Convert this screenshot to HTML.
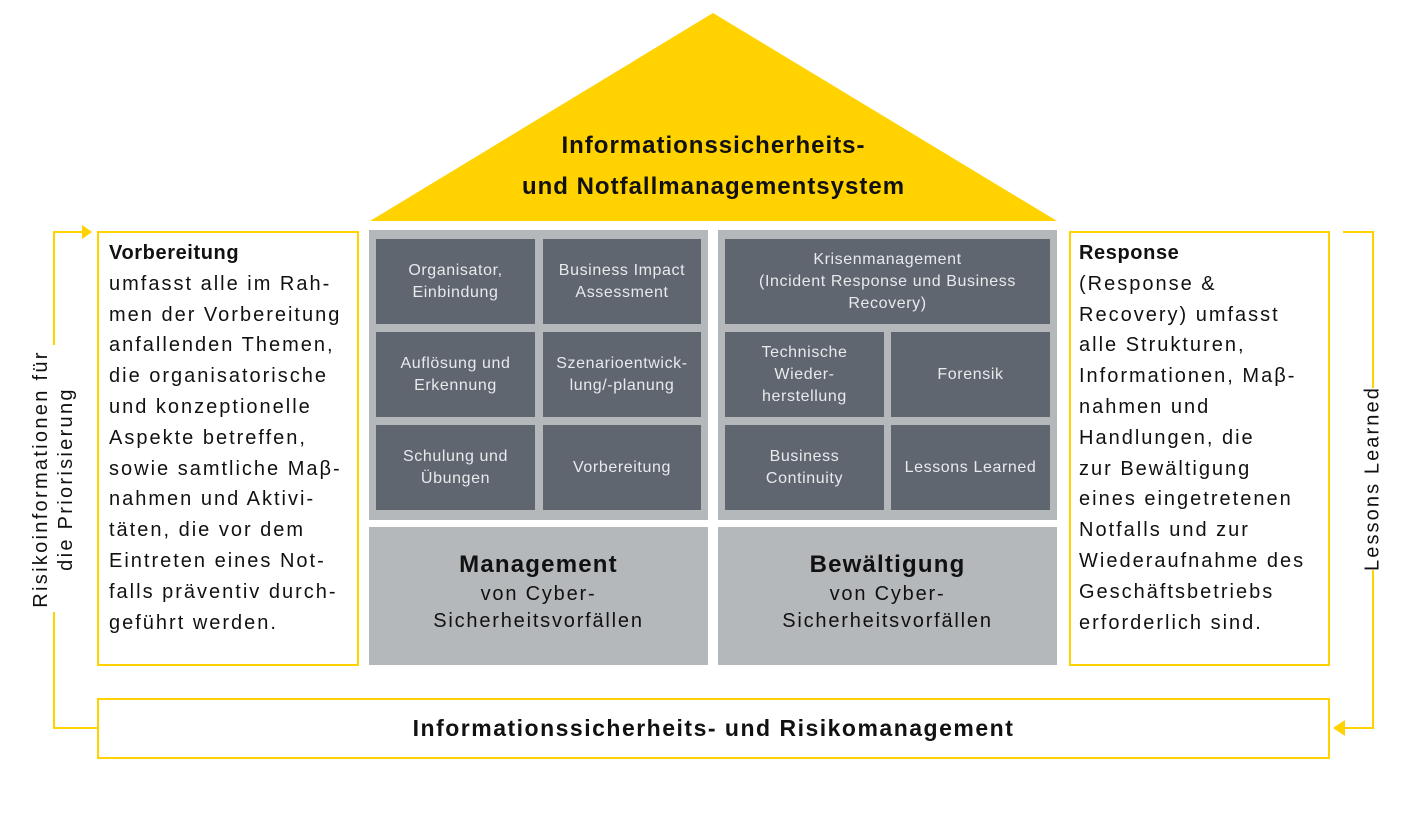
<!DOCTYPE html>
<html><head><meta charset="utf-8"><style>
body{margin:0;width:1417px;height:824px;background:#fff;position:relative;overflow:hidden;font-family:"Liberation Sans",sans-serif;}
.a{position:absolute;}
.yb{position:absolute;border:2px solid #FFD200;box-sizing:border-box;}
.t{position:absolute;background:#5f6670;color:#e8eaec;font-size:16px;line-height:22px;display:flex;align-items:center;justify-content:center;text-align:center;letter-spacing:0.6px;white-space:nowrap;}
.side{font-size:20px;line-height:30.8px;color:#111;white-space:nowrap;letter-spacing:2px;}
.side b{letter-spacing:0.6px;}
.gb{position:absolute;background:#b5b8bb;text-align:center;color:#111;white-space:nowrap;}
</style></head><body>
<svg class="a" style="left:0;top:0" width="1417" height="824">
<polygon points="713,13 370,221 1057,221" fill="#FFD200"/>
<g stroke="#FFD200" stroke-width="2" fill="none">
<polyline points="54,345 54,232 84,232"/>
<polyline points="54,612 54,728 97,728"/>
<polyline points="1343,232 1373,232 1373,388"/>
<polyline points="1373,570 1373,728 1345,728"/>
</g>
<polygon points="92,232 82,225 82,239" fill="#FFD200"/>
<polygon points="1333,728 1345,720 1345,736" fill="#FFD200"/>
<rect x="369" y="230" width="339" height="290" fill="#b5b8bb"/>
<rect x="718" y="230" width="339" height="290" fill="#b5b8bb"/>
</svg>
<div class="a" style="left:370px;top:125px;width:687px;text-align:center;font-weight:bold;font-size:24px;line-height:41px;color:#111;letter-spacing:1px;">Informationssicherheits-<br>und Notfallmanagementsystem</div>

<div class="yb" style="left:97px;top:231px;width:262px;height:435px;"></div>
<div class="a side" style="left:109px;top:238px;"><b>Vorbereitung</b><br>umfasst alle im Rah-<br>men der Vorbereitung<br>anfallenden Themen,<br>die organisatorische<br>und konzeptionelle<br>Aspekte betreffen,<br>sowie samtliche Maβ-<br>nahmen und Aktivi-<br>täten, die vor dem<br>Eintreten eines Not-<br>falls präventiv durch-<br>geführt werden.</div>

<div class="yb" style="left:1069px;top:231px;width:261px;height:435px;"></div>
<div class="a side" style="left:1079px;top:238px;"><b>Response</b><br>(Response &amp;<br>Recovery) umfasst<br>alle Strukturen,<br>Informationen, Maβ-<br>nahmen und<br>Handlungen, die<br>zur Bewältigung<br>eines eingetretenen<br>Notfalls und zur<br>Wiederaufnahme des<br>Geschäftsbetriebs<br>erforderlich sind.</div>

<div class="t" style="left:376px;top:239px;width:159px;height:85px;">Organisator,<br>Einbindung</div>
<div class="t" style="left:543px;top:239px;width:158px;height:85px;">Business Impact<br>Assessment</div>
<div class="t" style="left:376px;top:332px;width:159px;height:85px;">Auflösung und<br>Erkennung</div>
<div class="t" style="left:543px;top:332px;width:158px;height:85px;">Szenarioentwick-<br>lung/-planung</div>
<div class="t" style="left:376px;top:425px;width:159px;height:85px;">Schulung und<br>Übungen</div>
<div class="t" style="left:543px;top:425px;width:158px;height:85px;">Vorbereitung</div>

<div class="t" style="left:725px;top:239px;width:325px;height:85px;">Krisenmanagement<br>(Incident Response und Business<br>Recovery)</div>
<div class="t" style="left:725px;top:332px;width:159px;height:85px;">Technische<br>Wieder-<br>herstellung</div>
<div class="t" style="left:891px;top:332px;width:159px;height:85px;">Forensik</div>
<div class="t" style="left:725px;top:425px;width:159px;height:85px;">Business<br>Continuity</div>
<div class="t" style="left:891px;top:425px;width:159px;height:85px;">Lessons Learned</div>

<div class="gb" style="left:369px;top:527px;width:339px;height:138px;"><div style="margin-top:22px;font-size:24px;font-weight:bold;line-height:32px;letter-spacing:1.2px;">Management</div><div style="font-size:20px;line-height:27px;letter-spacing:1.8px;">von Cyber-<br>Sicherheitsvorfällen</div></div>
<div class="gb" style="left:718px;top:527px;width:339px;height:138px;"><div style="margin-top:22px;font-size:24px;font-weight:bold;line-height:32px;letter-spacing:1.2px;">Bewältigung</div><div style="font-size:20px;line-height:27px;letter-spacing:1.8px;">von Cyber-<br>Sicherheitsvorfällen</div></div>

<div class="yb" style="left:97px;top:698px;width:1233px;height:61px;display:flex;align-items:center;justify-content:center;font-weight:bold;font-size:23px;color:#111;letter-spacing:1.5px;">Informationssicherheits- und Risikomanagement</div>

<div class="a" style="left:-96px;top:454px;width:300px;height:50px;transform:rotate(-90deg);text-align:center;font-size:20px;line-height:25px;color:#111;white-space:nowrap;letter-spacing:2.3px;">Risikoinformationen für<br>die Priorisierung</div>
<div class="a" style="left:1223px;top:466px;width:300px;height:25px;transform:rotate(-90deg);text-align:center;font-size:20px;line-height:25px;color:#111;white-space:nowrap;letter-spacing:2.1px;">Lessons Learned</div>
</body></html>
